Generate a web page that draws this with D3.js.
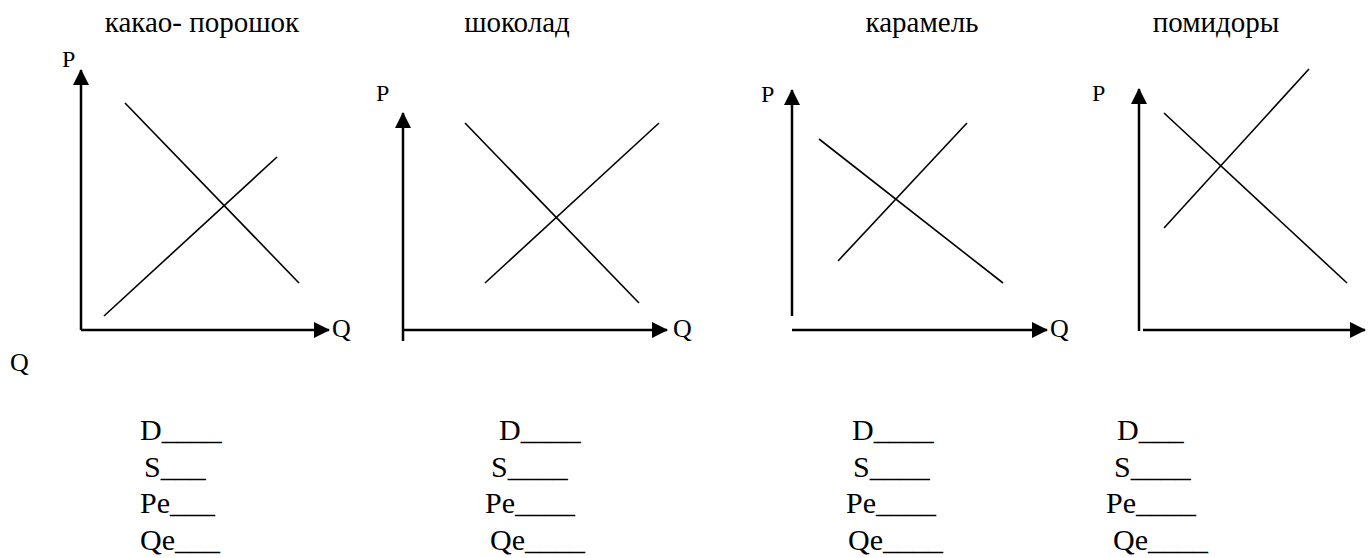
<!DOCTYPE html>
<html lang="ru">
<head>
<meta charset="UTF-8">
<title>Спрос и предложение</title>
<script src="https://d3js.org/d3.v7.min.js"></script>
<style>
  html, body { margin: 0; padding: 0; background: #fff; }
  svg { display: block; }
</style>
</head>
<body>
<svg id="canvas" width="1371" height="558"></svg>
<script>
// goods shown in the four panels
const titles = ["какао- порошок", "шоколад", "карамель", "помидоры"];

// demand / supply lines, [Q, P] in 0..100 units of each panel
const demandLines = [
  [[17.6, 90.8], [87.2, 18.8]],
  [[24.8, 82.8], [94.4, 10.8]],
  [[10.8, 76.4], [84.4, 18.8]],
  [[10, 86.8], [83.2, 18.8]]
];
const supplyLines = [
  [[9.2, 5.6], [78.4, 69.2]],
  [[32.8, 18.8], [102.4, 82.8]],
  [[18.4, 27.6], [70, 82.8]],
  [[10, 40.8], [68, 104.4]]
];

// answer blanks under each panel
const blankNames = ["D", "S", "Pe", "Qe"];
const blankUnderscores = [
  [4, 3, 3, 3],
  [4, 4, 4, 4],
  [4, 4, 4, 4],
  [3, 4, 4, 4]
];

// layout of each panel (pixels)
const panels = [
  {ox: 81, oy: 330, yBottom: 330, yTip: 70, xStart: 81, xTip: 329, titleX: 202,
   pX: 62, pY: 67, qX: 332, qY: 337, blankX: [140, 144, 140, 140]},
  {ox: 403, oy: 330, yBottom: 341, yTip: 113, xStart: 403, xTip: 667, titleX: 517,
   pX: 376, pY: 101, qX: 673, qY: 337, blankX: [499, 491, 485, 490]},
  {ox: 792, oy: 330, yBottom: 316, yTip: 90, xStart: 792, xTip: 1047, titleX: 922,
   pX: 761, pY: 102, qX: 1050, qY: 337, blankX: [852, 853, 846, 848]},
  {ox: 1139, oy: 330, yBottom: 331, yTip: 89, xStart: 1143, xTip: 1365, titleX: 1216,
   pX: 1092, pY: 101, qX: 10, qY: 371, blankX: [1117, 1114, 1106, 1113]}
];
const blankY = [440, 477, 513, 550];
const serif = "'Liberation Serif', 'Times New Roman', Times, 'DejaVu Serif', serif";

const svg = d3.select("#canvas");

svg.append("defs").append("marker")
  .attr("id", "arrow")
  .attr("viewBox", "0 0 16 16")
  .attr("refX", 15).attr("refY", 8)
  .attr("markerWidth", 16).attr("markerHeight", 16)
  .attr("markerUnits", "userSpaceOnUse")
  .attr("orient", "auto")
  .append("path")
  .attr("d", "M0,0 L16,8 L0,16 Z")
  .attr("fill", "#000");

const line = d3.line();

panels.forEach((p, i) => {
  const x = d3.scaleLinear().domain([0, 100]).range([p.ox, p.ox + 250]);
  const y = d3.scaleLinear().domain([0, 100]).range([p.oy, p.oy - 250]);
  const g = svg.append("g").attr("font-family", serif).attr("fill", "#000");

  g.append("text")
    .attr("x", p.titleX).attr("y", 32)
    .attr("text-anchor", "middle")
    .attr("font-size", 29)
    .text(titles[i]);

  // axes
  g.append("line")
    .attr("x1", p.ox).attr("y1", p.yBottom)
    .attr("x2", p.ox).attr("y2", p.yTip)
    .attr("stroke", "#000").attr("stroke-width", 2.5)
    .attr("marker-end", "url(#arrow)");
  g.append("line")
    .attr("x1", p.xStart).attr("y1", p.oy)
    .attr("x2", p.xTip).attr("y2", p.oy)
    .attr("stroke", "#000").attr("stroke-width", 2.5)
    .attr("marker-end", "url(#arrow)");

  g.append("text").attr("x", p.pX).attr("y", p.pY).attr("font-size", 24).text("P");
  g.append("text").attr("x", p.qX).attr("y", p.qY).attr("font-size", 26).text("Q");

  [demandLines[i], supplyLines[i]].forEach(pts => {
    g.append("path")
      .attr("d", line(pts.map(d => [x(d[0]), y(d[1])])))
      .attr("fill", "none")
      .attr("stroke", "#000")
      .attr("stroke-width", 1.6);
  });

  blankNames.forEach((name, j) => {
    g.append("text")
      .attr("x", p.blankX[j]).attr("y", blankY[j])
      .attr("font-size", 30)
      .text(name + "_".repeat(blankUnderscores[i][j]));
  });
});
</script>
</body>
</html>
